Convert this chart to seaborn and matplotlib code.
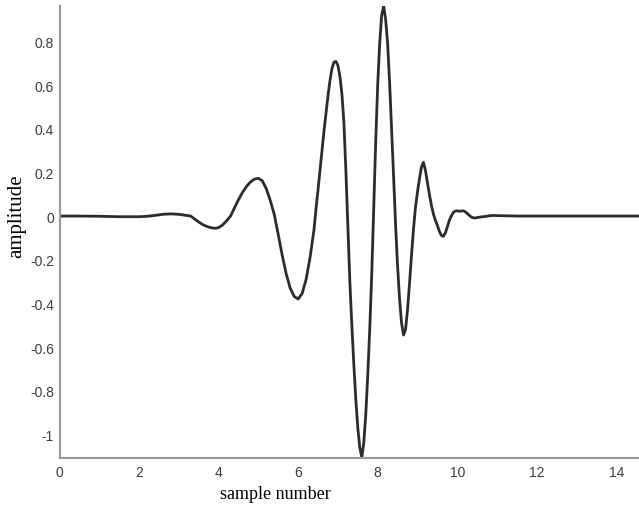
import matplotlib
matplotlib.use("Agg")
import matplotlib.pyplot as plt
import seaborn as sns
import pandas as pd

sample_x = [0, 0.5, 1.0, 1.5, 2.0, 2.2, 2.4, 2.6, 2.8, 3.0, 3.2, 3.3,
            3.4, 3.5, 3.6, 3.7, 3.8, 3.9, 4.0, 4.1, 4.2, 4.3, 4.4, 4.5,
            4.6, 4.7, 4.8, 4.9, 5.0, 5.1, 5.2, 5.3, 5.4, 5.5, 5.6, 5.7,
            5.8, 5.9, 6.0, 6.1, 6.2, 6.3, 6.4,
            6.45, 6.5, 6.55, 6.6, 6.65, 6.7, 6.75, 6.8, 6.85, 6.9, 6.95,
            7.0, 7.05, 7.1, 7.15, 7.2, 7.25, 7.3, 7.35, 7.4, 7.45, 7.5,
            7.55, 7.6, 7.65, 7.7, 7.75, 7.8, 7.85, 7.9, 7.95, 8.0, 8.05,
            8.1, 8.15, 8.2, 8.25, 8.3, 8.35, 8.4, 8.45, 8.5, 8.55, 8.6,
            8.65, 8.7, 8.75, 8.8, 8.85, 8.9, 8.95, 9.0, 9.05, 9.1, 9.15,
            9.2, 9.25, 9.3, 9.35, 9.4, 9.45, 9.5, 9.55, 9.6, 9.65, 9.7,
            9.75, 9.8, 9.85, 9.9, 9.95, 10.0, 10.05, 10.1, 10.15, 10.2,
            10.25, 10.3, 10.35, 10.4, 10.45, 10.5,
            10.6, 10.7, 10.8, 10.9, 11.0, 11.2, 11.5, 12.0, 13.0, 14.0, 14.6]

amplitude = [0.0, 0.0, -0.001, -0.003, -0.003, -0.001, 0.003, 0.008, 0.010, 0.008, 0.003, 0.0,
             -0.014, -0.027, -0.039, -0.047, -0.053, -0.056, -0.053, -0.041, -0.022, 0.0, 0.038, 0.075,
             0.108, 0.135, 0.156, 0.169, 0.173, 0.161, 0.125, 0.071, 0.007, -0.085, -0.180, -0.265,
             -0.330, -0.368, -0.380, -0.355, -0.290, -0.190, -0.060,
             0.035, 0.120, 0.210, 0.300, 0.390, 0.470, 0.550, 0.620, 0.675, 0.705, 0.708,
             0.690, 0.640, 0.560, 0.430, 0.210, -0.050, -0.300, -0.500, -0.680, -0.840, -0.970,
             -1.060, -1.105, -1.040, -0.910, -0.730, -0.520, -0.270, 0.040, 0.340, 0.600, 0.790,
             0.920, 0.962, 0.900, 0.790, 0.610, 0.400, 0.180, -0.040, -0.230, -0.380, -0.490,
             -0.545, -0.520, -0.430, -0.310, -0.180, -0.060, 0.040, 0.110, 0.170, 0.225, 0.246,
             0.210, 0.155, 0.100, 0.050, 0.010, -0.020, -0.042, -0.070, -0.088, -0.093, -0.078,
             -0.050, -0.020, 0.000, 0.016, 0.023, 0.024, 0.022, 0.023, 0.024, 0.020,
             0.012, 0.004, -0.004, -0.008, -0.009, -0.007,
             -0.004, -0.002, 0.001, 0.003, 0.002, 0.001, 0.0, 0.0, 0.0, 0.0, 0.0]

x_ticks = [0, 2, 4, 6, 8, 10, 12, 14]
y_ticks = [-1.0, -0.8, -0.6, -0.4, -0.2, 0.0, 0.2, 0.4, 0.6, 0.8]
y_tick_labels = ["-1", "-0.8", "-0.6", "-0.4", "-0.2", "0", "0.2", "0.4", "0.6", "0.8"]

sns.set_style("white")
plt.rcParams["axes.unicode_minus"] = False

df = pd.DataFrame({"sample": sample_x, "amp": amplitude})

fig = plt.figure(figsize=(6.39, 5.06), dpi=100)
ax = fig.add_axes([59.5 / 639, 1 - 459 / 506, 1 - 59.5 / 639, (459 - 7) / 506])

sns.lineplot(data=df, x="sample", y="amp", ax=ax, color="#2b2b2b", linewidth=2.0)

ax.set_xlim(0, 14.57)
ax.set_ylim(-1.108, 0.962)

# only left and bottom axis lines, grey
for side in ["top", "right"]:
    ax.spines[side].set_visible(False)
for side in ["left", "bottom"]:
    ax.spines[side].set_color("#9a9a9a")
    ax.spines[side].set_linewidth(1.5)

ax.set_xticks(x_ticks)
ax.set_xticklabels([str(t) for t in x_ticks])
ax.set_yticks(y_ticks)
ax.set_yticklabels(y_tick_labels)
ax.tick_params(axis="y", length=3, width=1, color="#9a9a9a", pad=1,
               labelsize=10, labelcolor="#3c3c3c")
ax.tick_params(axis="x", length=0, pad=5, labelsize=10, labelcolor="#3c3c3c")
for lab in ax.get_xticklabels() + ax.get_yticklabels():
    lab.set_family("Liberation Sans")

ax.set_xlabel("sample number", family="Liberation Serif", fontsize=13, color="black")
ax.set_ylabel("amplitude", family="Liberation Serif", fontsize=15, color="black")
# label anchors: top of x label, right edge of the rotated y label
ax.xaxis.set_label_coords((275 - 59.5) / 579.5, (459 - 486) / 452)
ax.yaxis.set_label_coords((26 - 59.5) / 579.5, (459 - 216) / 452)

fig.savefig("out.png", dpi=100)
